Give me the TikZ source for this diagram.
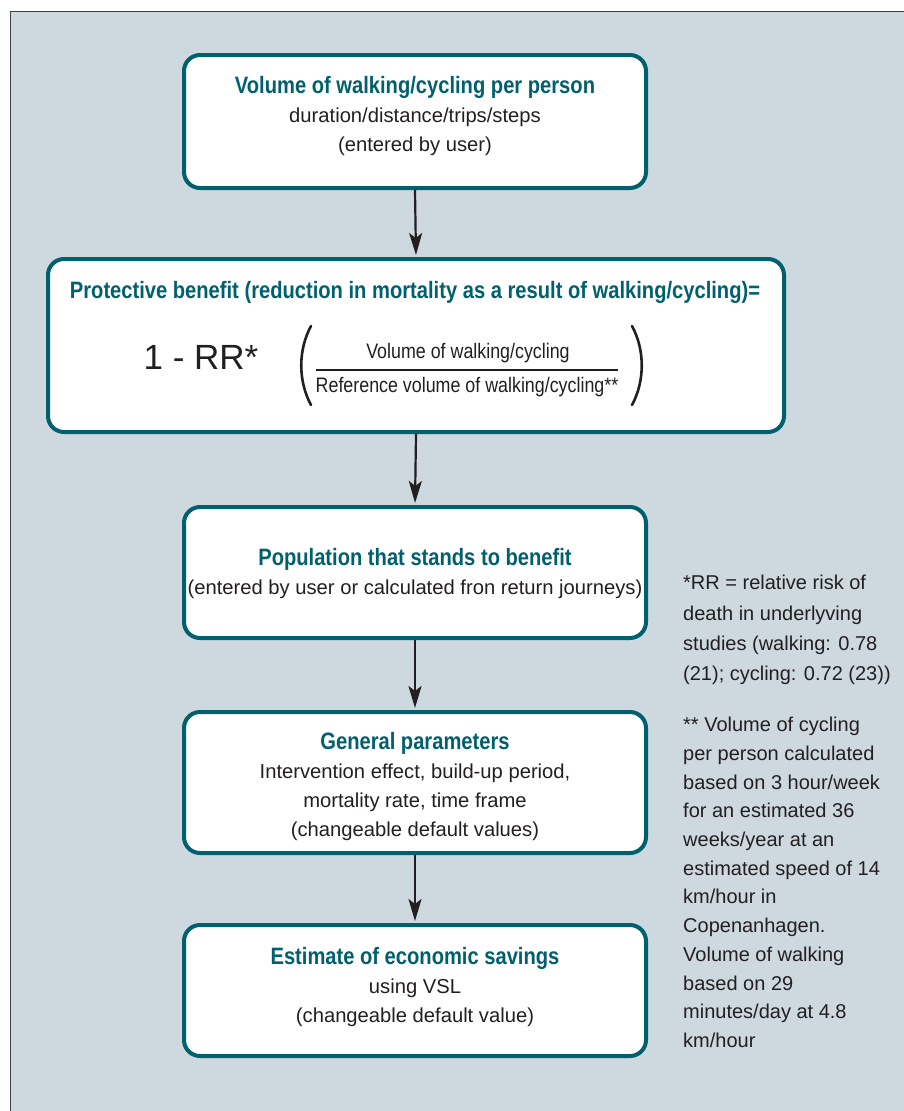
\documentclass[tikz,border=0pt]{standalone}
\usepackage{fontspec}
\setmainfont{Liberation Sans}
\newfontfamily\condfont{Liberation Sans}[FakeStretch=0.85]
\usetikzlibrary{arrows.meta}
\definecolor{teal1}{HTML}{00606E}
\definecolor{panel}{HTML}{CDD8DF}
\definecolor{ink}{HTML}{231F20}
\newcommand\boxhead[1]{{\condfont\bfseries\fontsize{23.7}{29}\selectfont\color{teal1}#1}}
\tikzset{
  stepbox/.style={draw=teal1, line width=4pt, fill=white, rounded corners=16pt, inner sep=0pt},
  boxtext/.style={align=center, text=ink, inner sep=0pt, font=\fontsize{20.2}{29}\selectfont},
  flow/.style={-{Stealth[length=22pt,width=13pt,inset=5pt]}, line width=2.2pt, draw=ink, shorten >=2pt},
  note/.style={anchor=north west, align=left, text=ink, inner sep=0pt},
  paren/.style={line width=2.6pt, draw=ink, line cap=round}
}
\begin{document}
\begin{tikzpicture}[x=1pt,y=-1pt]
\useasboundingbox (0,0) rectangle (903,1111);
\fill[white] (0,0) rectangle (903,1111);
\draw[fill=panel, draw=black!75, line width=1.5pt] (10.5,11.5) rectangle (920,1130);

\node[stepbox, minimum width=462pt, minimum height=133pt] (b1) at (415,121.5) {};
\node[boxtext] (b1t) at (415,115.7)
  {\boxhead{Volume of walking/cycling per person}\\duration/distance/trips/steps\\(entered by user)};

\node[stepbox, minimum width=736pt, minimum height=173pt] (b2) at (416,345.5) {};
\node[inner sep=0pt] (t2) at (415,292)
  {\boxhead{Protective benefit (reduction in mortality as a result of walking/cycling)=}};
\node[text=ink, font=\fontsize{35}{40}\selectfont, inner sep=0pt] (rr) at (201,357) {1 - RR*};
\node[text=ink, font=\condfont\fontsize{21}{24}\selectfont, inner sep=0pt] (num) at (468,353) {Volume of walking/cycling};
\node[text=ink, font=\condfont\fontsize{21}{24}\selectfont, inner sep=0pt] (den) at (467,387) {Reference volume of walking/cycling**};
\coordinate (fl) at (316,370);
\coordinate (fr) at (618,370);
\draw[line width=1.6pt, draw=ink] (fl) -- (fr);
\coordinate (lp1) at (311,326);
\coordinate (lp2) at (311,405);
\draw[paren] (lp1) .. controls (298,350) and (298,381) .. (lp2);
\coordinate (rp1) at (632,326);
\coordinate (rp2) at (632,405);
\draw[paren] (rp1) .. controls (645,350) and (645,381) .. (rp2);

\node[stepbox, minimum width=462pt, minimum height=131pt] (b3) at (415,572.5) {};
\node[boxtext] (b3t) at (415,574)
  {\boxhead{Population that stands to benefit}\\(entered by user or calculated fron return journeys)};

\node[stepbox, minimum width=462pt, minimum height=141pt] (b4) at (415,782.5) {};
\node[boxtext] (b4t) at (415,786)
  {\boxhead{General parameters}\\Intervention effect, build-up period,\\mortality rate, time frame\\(changeable default values)};

\node[stepbox, minimum width=462pt, minimum height=131pt] (b5) at (415,990.5) {};
\node[boxtext] (b5t) at (415,987)
  {\boxhead{Estimate of economic savings}\\using VSL\\(changeable default value)};

\draw[flow] (b1.south) -- (b2.north);
\draw[flow] (b2.south) -- (b3.north);
\draw[flow] (b3.south) -- (b4.north);
\draw[flow] (b4.south) -- (b5.north);

\node[note, font=\fontsize{20}{30.3}\selectfont] (n1) at (683,575) {*RR = relative risk of\\death in underlyving\\studies (walking: 0.78\\(21); cycling: 0.72 (23))};
\node[note, font=\fontsize{20}{28.7}\selectfont] (n2) at (683,717) {** Volume of cycling\\per person calculated\\based on 3 hour/week\\for an estimated 36\\weeks/year at an\\estimated speed of 14\\km/hour in\\Copenanhagen.\\Volume of walking\\based on 29\\minutes/day at 4.8\\km/hour};
\end{tikzpicture}
\end{document}
